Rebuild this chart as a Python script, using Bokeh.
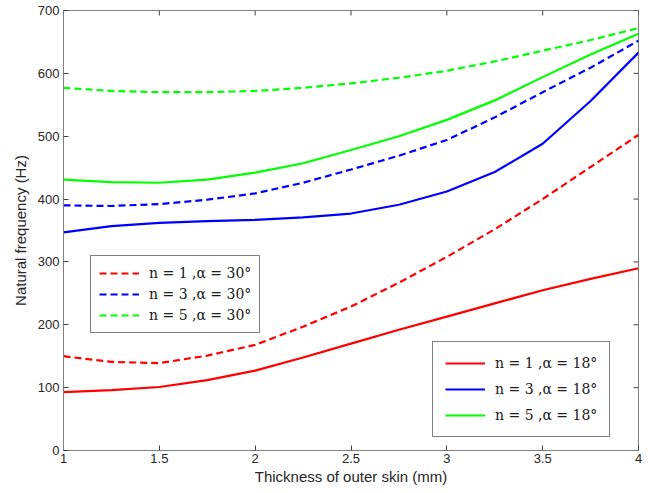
import math
from bokeh.plotting import figure
from bokeh.models import Legend, LegendItem, Range1d, FixedTicker
from bokeh.embed import file_html
from bokeh.resources import INLINE

# thickness (mm)
x_vals = [1.0, 1.25, 1.5, 1.75, 2.0, 2.25, 2.5, 2.75, 3.0, 3.25, 3.5, 3.75, 4.0]

# alpha = 18 deg (solid)
n1_a18 = [93, 96, 101, 112, 127, 148, 170, 192, 213, 234, 255, 273, 290]
n3_a18 = [347, 357, 362, 365, 367, 371, 377, 391, 412, 443, 488, 556, 633]
n5_a18 = [431, 427, 426, 431, 442, 457, 478, 500, 526, 557, 594, 630, 663]

# alpha = 30 deg (dashed)
n1_a30 = [150, 141, 139, 151, 168, 197, 229, 267, 308, 352, 400, 451, 502]
n3_a30 = [390, 389, 392, 399, 409, 426, 447, 469, 494, 530, 570, 609, 652]
n5_a30 = [577, 572, 570, 570, 572, 577, 584, 593, 604, 619, 636, 653, 672]

labels18 = ["n = 1 ,α = 18°", "n = 3 ,α = 18°", "n = 5 ,α = 18°"]
labels30 = ["n = 1 ,α = 30°", "n = 3 ,α = 30°", "n = 5 ,α = 30°"]
colors = ["#ff0000", "#0000ff", "#00ff00"]

x_ticks = [1, 1.5, 2, 2.5, 3, 3.5, 4]
y_ticks = [0, 100, 200, 300, 400, 500, 600, 700]
x_min, x_max = 1, 4
y_min, y_max = 0, 700

p = figure(width=648, height=493, output_backend="svg", toolbar_location=None,
           x_range=Range1d(x_min, x_max), y_range=Range1d(y_min, y_max),
           min_border_left=63, min_border_right=10, min_border_top=10, min_border_bottom=43)
p.background_fill_color = "white"
p.border_fill_color = "white"
p.grid.visible = False
p.outline_line_color = "#808080"
p.outline_line_width = 1

p.xaxis.ticker = FixedTicker(ticks=x_ticks)
p.yaxis.ticker = FixedTicker(ticks=y_ticks)
p.xaxis.major_label_overrides = {1: "1", 1.5: "1.5", 2: "2", 2.5: "2.5", 3: "3", 3.5: "3.5", 4: "4"}

for ax in (p.xaxis[0], p.yaxis[0]):
    ax.axis_line_color = "#808080"
    ax.major_tick_line_color = "#404040"
    ax.major_tick_in = 5
    ax.major_tick_out = 0
    ax.minor_tick_line_color = None
    ax.major_label_text_font = "Liberation Sans"
    ax.major_label_text_font_size = "13px"
    ax.major_label_text_color = "#262626"
    ax.axis_label_text_font = "Liberation Sans"
    ax.axis_label_text_font_size = "15px"
    ax.axis_label_text_font_style = "normal"
    ax.axis_label_text_color = "#262626"

p.xaxis.axis_label = "Thickness of outer skin (mm)"
p.yaxis.axis_label = "Natural frequency (Hz)"
p.xaxis.major_label_standoff = 3
p.xaxis.axis_label_standoff = 2
p.yaxis.major_label_standoff = 4
p.yaxis.axis_label_standoff = 6

# inward ticks on the right and top edges of the box
p.ray(x=[x_max] * len(y_ticks), y=y_ticks, length=5, length_units="screen",
      angle=math.pi, line_color="#404040", line_width=1)
p.ray(x=x_ticks, y=[y_max] * len(x_ticks), length=5, length_units="screen",
      angle=-math.pi / 2, line_color="#404040", line_width=1)

series18 = [n1_a18, n3_a18, n5_a18]
series30 = [n1_a30, n3_a30, n5_a30]

items30 = []
for ys, c, lab in zip(series30, colors, labels30):
    r = p.line(x_vals, ys, line_color=c, line_width=2.2, line_dash="7 4")
    items30.append(LegendItem(label=lab, renderers=[r]))
items18 = []
for ys, c, lab in zip(series18, colors, labels18):
    r = p.line(x_vals, ys, line_color=c, line_width=2.2)
    items18.append(LegendItem(label=lab, renderers=[r]))

def style_legend(lg, spacing):
    lg.border_line_color = "black"
    lg.border_line_width = 1
    lg.background_fill_color = "white"
    lg.background_fill_alpha = 1
    lg.label_text_font = "DejaVu Serif"
    lg.label_text_font_size = "14px"
    lg.label_text_color = "#202020"
    lg.glyph_width = 40
    lg.glyph_height = 18
    lg.spacing = spacing
    lg.padding = 8
    lg.margin = 0
    lg.label_standoff = 10

leg30 = Legend(items=items30, location=(27, 117))
style_legend(leg30, 3)
leg18 = Legend(items=items18, location=(369, 13))
style_legend(leg18, 8)
leg18.padding = 12
p.add_layout(leg30, "center")
p.add_layout(leg18, "center")

open("out.html", "w").write(file_html(p, INLINE))
